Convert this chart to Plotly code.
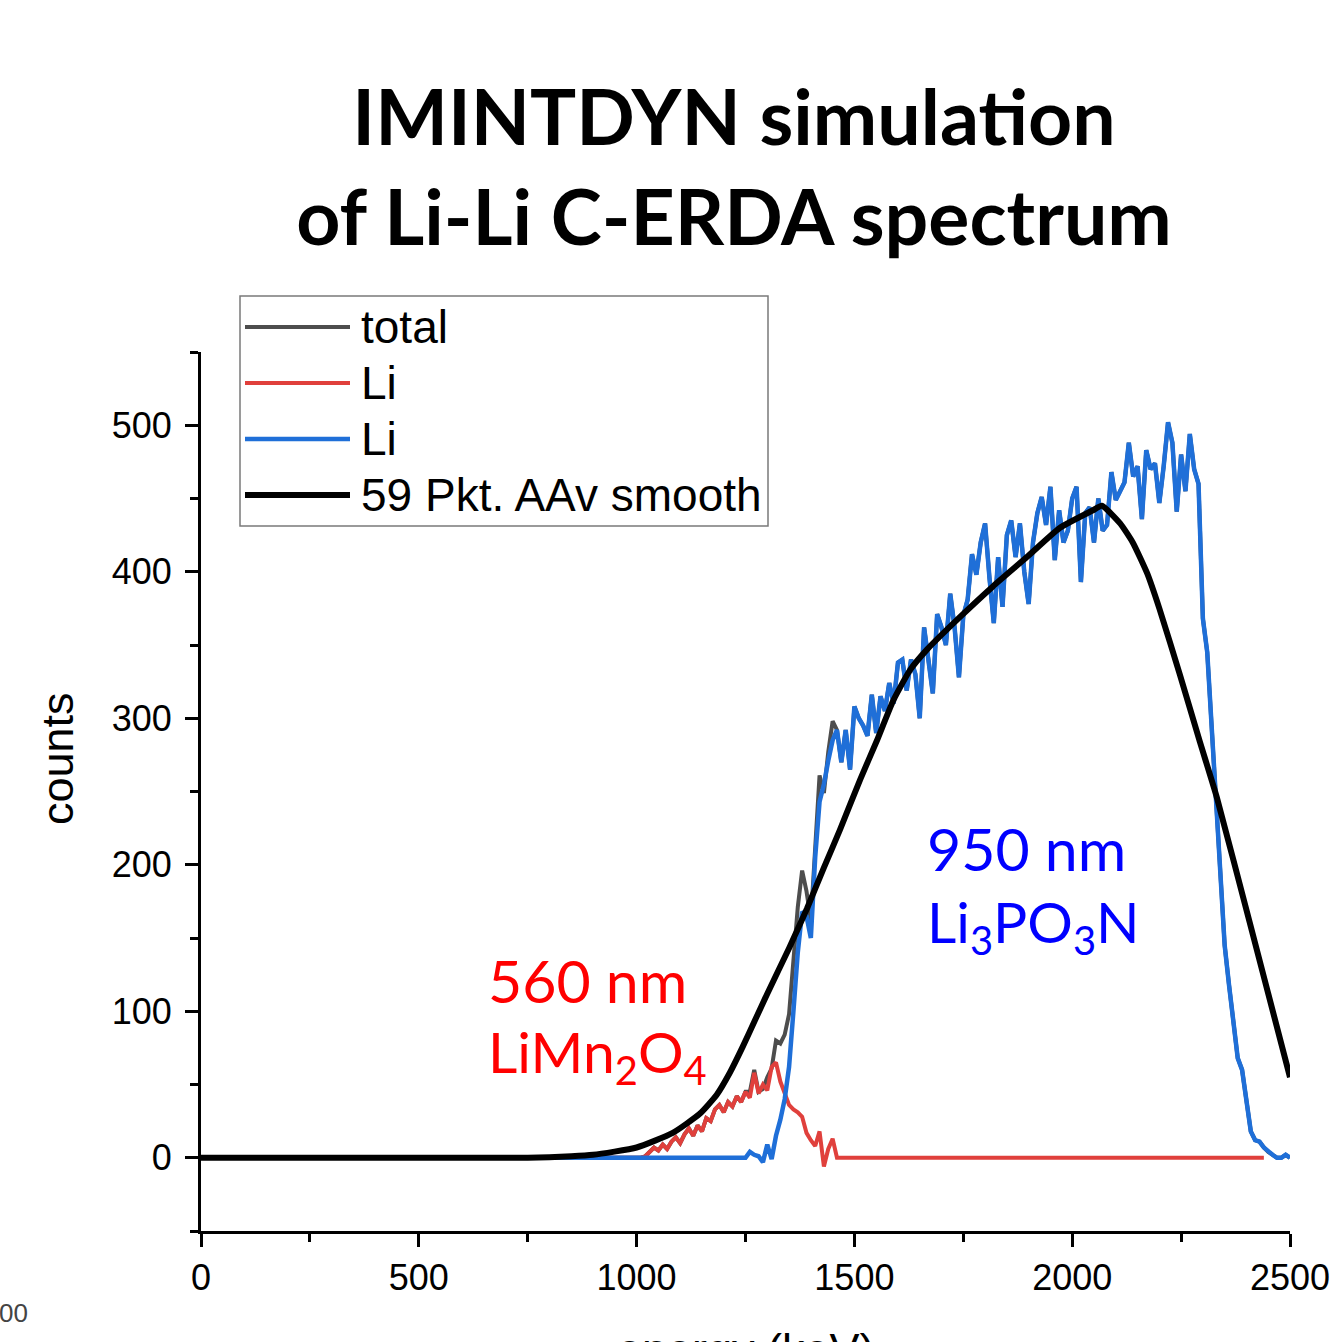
import plotly.graph_objects as go

# ---------------- data ----------------
# common energy grid of the simulated spectra (keV)
energy = [0] + list(range(1000, 2501, 10))

# Li recoils from the LiMn2O4 layer (red), 1000..1470 keV, then flat zero
li_lmo_head = [
    0, 0, 1, 4, 7, 5, 9, 6, 11, 14,
    10, 16, 20, 15, 22, 18, 27, 25, 33, 36,
    31, 38, 35, 42, 38, 45, 41, 58, 44, 50,
    46, 62, 65, 52, 44, 36, 33, 31, 28, 17,
    12, 8, 18, -6, 6, 13, 0, 0,
]
li_lmo = [0] + li_lmo_head + [0] * 97 + [None] * 6

# Li recoils from the Li3PO3N layer (blue), 1250..2500 keV, zero before
li_lipon_tail = [
    0, 4, 2, 1, -3, 9, -1, 15, 26, 40,
    62, 100, 140, 168, 165, 150, 205, 243, 255, 271,
    285, 292, 270, 292, 265, 308, 300, 295, 288, 316,
    290, 315, 305, 324, 310, 338, 340, 319, 340, 330,
    300, 362, 340, 317, 371, 362, 350, 385, 362, 328,
    370, 381, 412, 398, 420, 433, 396, 365, 410, 376,
    425, 435, 410, 433, 400, 378, 420, 440, 451, 432,
    458, 408, 442, 420, 428, 450, 458, 393, 440, 444,
    420, 450, 428, 432, 468, 449, 455, 461, 488, 465,
    472, 436, 483, 470, 474, 447, 472, 502, 488, 441,
    480, 455, 494, 470, 460, 368, 345, 295, 240, 200,
    145, 118, 90, 68, 60, 38, 18, 12, 11, 7,
    4, 2, 0, 0, 2, 0,
]
li_lipon = [0] + [0] * 25 + li_lipon_tail

# total = sum of both Li contributions
total = [b if r is None else r + b for r, b in zip(li_lmo, li_lipon)]

# 59 point adjacent-average smooth (black)
smooth_energy = [0, 750, 850, 900, 1000, 1083, 1145, 1184, 1214, 1244, 1272,
                 1300, 1350, 1391, 1430, 1467, 1513, 1552, 1589, 1628, 1667,
                 1742, 1818, 1896, 1972, 2048, 2068, 2110, 2139, 2172, 2200,
                 2247, 2293, 2332, 2408, 2500]
smooth_counts = [0, 0, 1, 2, 7, 17, 30, 43, 58, 76, 94,
                 112, 143, 170, 198, 224, 258, 285, 312, 333, 347,
                 369, 390, 410, 430, 442, 445, 433, 420, 399, 375,
                 330, 284, 246, 160, 55]

x_ticks = [0, 500, 1000, 1500, 2000, 2500]
y_ticks = [0, 100, 200, 300, 400, 500]

series_names = ["total", "Li", "Li", "59 Pkt. AAv smooth"]
series_colors = ["#4d4d4d", "#e0403c", "#1f6fd8", "black"]
series_widths = [4, 4, 4.5, 6]

# ---------------- figure ----------------
W, H = 1330, 1342
AX_FONT = "Liberation Sans, Arial, sans-serif"
CAL_FONT = "Lato, 'Open Sans', sans-serif"

fig = go.Figure()
for xs, ys, nm, col, wd in [
    (energy, total, series_names[0], series_colors[0], series_widths[0]),
    (energy, li_lmo, series_names[1], series_colors[1], series_widths[1]),
    (energy, li_lipon, series_names[2], series_colors[2], series_widths[2]),
]:
    fig.add_trace(go.Scatter(x=xs, y=ys, mode="lines", name=nm,
                             showlegend=False,
                             line=dict(color=col, width=wd)))
fig.add_trace(go.Scatter(x=smooth_energy, y=smooth_counts, mode="lines",
                         name=series_names[3], showlegend=False,
                         line=dict(color=series_colors[3],
                                   width=series_widths[3], shape="spline",
                                   smoothing=0.5)))


def px_x(p):
    return p / W


def px_y(p):
    return 1 - p / H


fig.update_layout(
    width=W, height=H, autosize=False,
    margin=dict(l=0, r=0, t=0, b=0, autoexpand=False),
    paper_bgcolor="white", plot_bgcolor="white",
    title=dict(text="IMINTDYN simulation<br>of Li-Li C-ERDA spectrum",
               font=dict(family=CAL_FONT, size=77, color="black", weight=700),
               x=734 / W, xanchor="center", xref="container",
               y=px_y(145), yanchor="middle", yref="container"),
    xaxis=dict(domain=[px_x(201), px_x(1290)], range=[0, 2500],
               tickvals=x_ticks, automargin=False, ticklabeloverflow="allow",
               showgrid=False, zeroline=False, showline=True,
               linecolor="black", linewidth=3, ticks="outside", ticklen=13,
               tickwidth=2.5, tickcolor="black",
               minor=dict(dtick=250, tick0=0, ticks="outside", ticklen=8,
                          tickwidth=2.5, tickcolor="black"),
               tickfont=dict(family=AX_FONT, size=36, color="black")),
    yaxis=dict(domain=[px_y(1231), px_y(352)], range=[-50, 550],
               tickvals=y_ticks, automargin=False, ticklabeloverflow="allow",
               ticklabelstandoff=6,
               showgrid=False, zeroline=False, showline=True,
               linecolor="black", linewidth=3, ticks="outside", ticklen=13,
               tickwidth=2.5, tickcolor="black",
               minor=dict(dtick=50, tick0=0, ticks="outside", ticklen=8,
                          tickwidth=2.5, tickcolor="black"),
               tickfont=dict(family=AX_FONT, size=36, color="black")),
    showlegend=False,
)

# ---- legend box drawn in Origin style ----
fig.add_shape(type="rect", xref="paper", yref="paper",
              x0=px_x(240), x1=px_x(768), y0=px_y(526), y1=px_y(296),
              line=dict(color="#7a7a7a", width=1.5), fillcolor="white",
              layer="above")
leg_rows = [327, 383, 439, 495]
for yy, nm, col, wd in zip(leg_rows, series_names, series_colors,
                           series_widths):
    fig.add_shape(type="line", xref="paper", yref="paper",
                  x0=px_x(245), x1=px_x(350), y0=px_y(yy), y1=px_y(yy),
                  line=dict(color=col, width=wd), layer="above")
    fig.add_annotation(text=nm, xref="paper", yref="paper",
                       x=px_x(359), y=px_y(yy), xanchor="left",
                       yanchor="middle", showarrow=False,
                       font=dict(family=AX_FONT, size=46, color="black"))

# axis titles (placed as in the reference; x title is cut by the page edge)
fig.add_annotation(text="counts", xref="paper", yref="paper",
                   x=px_x(57), y=px_y(759), textangle=-90, showarrow=False,
                   xanchor="center", yanchor="middle",
                   font=dict(family=AX_FONT, size=45, color="black"))
fig.add_annotation(text="energy (keV)", xref="paper", yref="paper",
                   x=px_x(745.5), y=px_y(1349), xanchor="center",
                   yanchor="middle", showarrow=False,
                   font=dict(family=AX_FONT, size=45, color="black"))

# layer labels
lab_font_r = dict(family=CAL_FONT, size=59, color="#ff0000")
lab_font_b = dict(family=CAL_FONT, size=59, color="#0000ff")
sub_font_r = dict(family=CAL_FONT, size=57, color="#ff0000")
sub_font_b = dict(family=CAL_FONT, size=57, color="#0000ff")
fig.add_annotation(text="560 nm", x=654, y=121, xanchor="left",
                   yanchor="middle", showarrow=False, font=lab_font_r)
fig.add_annotation(text="LiMn<sub>2</sub>O<sub>4</sub>", x=654, y=70,
                   xanchor="left", yanchor="middle", showarrow=False,
                   font=sub_font_r)
fig.add_annotation(text="950 nm", x=1663, y=211, xanchor="left",
                   yanchor="middle", showarrow=False, font=lab_font_b)
fig.add_annotation(text="Li<sub>3</sub>PO<sub>3</sub>N", x=1663, y=159,
                   xanchor="left", yanchor="middle", showarrow=False,
                   font=sub_font_b)

# fragment of a neighbouring slide element at the left edge
fig.add_annotation(text="00", xref="paper", yref="paper", x=px_x(-3),
                   y=px_y(1313), xanchor="left", yanchor="middle",
                   showarrow=False,
                   font=dict(family=AX_FONT, size=26, color="#444444"))

fig.write_html("out.html")
